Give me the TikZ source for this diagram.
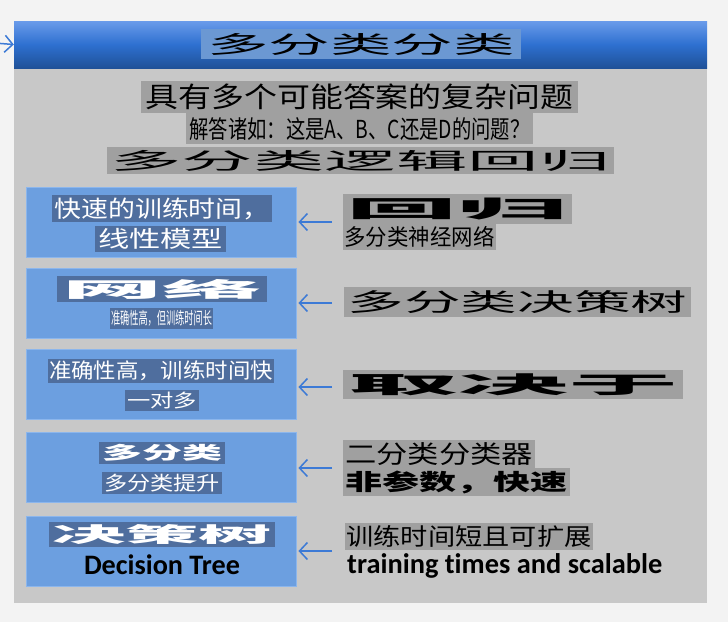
\documentclass[tikz,border=0pt]{standalone}
\usepackage{fontspec}
\usepackage{graphicx}
\setmainfont{Noto Sans CJK SC}
\newfontfamily\latinbold[Ligatures=CommonOff]{Carlito}
\usetikzlibrary{arrows.meta}
\usetikzlibrary{positioning}
\definecolor{bgcol}{HTML}{F3F3F3}
\definecolor{panelgray}{HTML}{C8C8C8}
\definecolor{hlgray}{HTML}{A0A0A0}
\definecolor{titlehl}{HTML}{6B98D3}
\definecolor{boxblue}{HTML}{6C9FE0}
\definecolor{boxline}{HTML}{8CB6EC}
\definecolor{hlblue}{HTML}{4F6E9E}
\definecolor{arrowblue}{HTML}{3C7AD6}
\definecolor{bandtop}{HTML}{6A9BEA}
\definecolor{bandmid}{HTML}{2E70D0}
\definecolor{bandbot}{HTML}{1F5198}
\newcommand\squash[3]{\resizebox*{#1pt}{#2pt}{#3}}

\begin{document}
\begin{tikzpicture}[x=1pt,y=-1pt,
  box/.style={draw=boxline,fill=boxblue,line width=0.8pt,minimum width=270pt,minimum height=70pt,inner sep=0pt},
  hl/.style={fill=hlgray,inner sep=0pt,text=black},
  hlw/.style={fill=hlblue,inner sep=0pt,text=white},
  arr/.style={draw=arrowblue,line width=1.5pt,-{Straight Barb[length=8pt,width=17pt,line width=1.5pt]},shorten >=2pt}]
  \useasboundingbox (0,0) rectangle (728,622);
  \clip (0,0) rectangle (728,622);
  \fill[bgcol] (0,0) rectangle (728,622);
  \fill[panelgray] (14,68) rectangle (707,603);
  \node[minimum width=693pt,minimum height=47pt,inner sep=0pt,top color=bandtop,bottom color=bandbot,middle color=bandmid] (band) at (360.5,44.5){};
  \coordinate (lt) at (-6,43);
  \draw[arr,shorten >=0pt] (lt)--(band.west);
  \node[fill=titlehl,minimum width=320pt,minimum height=30pt,inner sep=0pt] (title) at (361,44){\squash{308}{22}{多分类分类}};

  \node[hl,minimum width=437pt,minimum height=32pt] (q1) at (359.5,97){\squash{428}{26}{具有多个可能答案的复杂问题}};
  \node[hl,minimum width=347pt,minimum height=31pt,below=0pt of q1] (q2){\squash{340}{23}{解答诸如：这是A、B、C还是D的问题？}};
  \node[hl,minimum width=507pt,minimum height=27pt] (multi) at (360.5,160.5){\squash{500}{21}{多分类逻辑回归}};

  \node[box] (b1) at (161,222){};
  \node[box] (b2) at (161,303){};
  \node[box] (b3) at (161,384){};
  \node[box] (b4) at (161,467){};
  \node[box] (b5) at (161,551){};

  \node[hlw,minimum width=220pt,minimum height=27pt] (fast) at (162,208.5){\squash{215}{22}{快速的训练时间，}};
  \node[hlw,minimum width=131pt,minimum height=26pt] (linear) at (160.5,239){\squash{125}{21}{线性模型}};
  \node[hlw,minimum width=210pt,minimum height=26pt] (net) at (162,289){\squash{200}{20}{\bfseries 网络}};
  \node[hlw,minimum width=103pt,minimum height=21pt] (acc1) at (161.5,318.5){\squash{101}{16}{准确性高，但训练时间长}};
  \node[hlw,minimum width=226pt,minimum height=24pt] (acc2) at (161,371){\squash{224}{20}{准确性高，训练时间快}};
  \node[hlw,minimum width=74pt,minimum height=21pt] (ovr) at (162,400.5){\squash{70}{17}{一对多}};
  \node[hlw,minimum width=126pt,minimum height=22pt] (mc) at (162,453){\squash{120}{17}{\bfseries 多分类}};
  \node[hlw,minimum width=120pt,minimum height=22pt] (boost) at (162,483){\squash{116}{18}{多分类提升}};
  \node[hlw,minimum width=226pt,minimum height=25pt] (tree) at (162,534.5){\squash{220}{20}{\bfseries 决策树}};
  \node[inner sep=0pt] (dt) at (162,565){\resizebox{156pt}{!}{\latinbold\bfseries Decision Tree}};

  \node[hl,minimum width=229pt,minimum height=30pt] (reg) at (457.5,209){\squash{222}{22}{\bfseries 回归}};
  \node[hl,minimum width=153pt,minimum height=26pt] (nn) at (419.5,237){\squash{150}{21}{多分类神经网络}};
  \node[hl,minimum width=347pt,minimum height=30pt] (mtree) at (517.5,302){\squash{340}{23}{多分类决策树}};
  \node[hl,minimum width=340pt,minimum height=29pt] (dep) at (513,384.5){\squash{330}{22}{\bfseries 取决于}};
  \node[hl,minimum width=192pt,minimum height=28pt] (bin) at (439,454){\squash{188}{23}{二分类分类器}};
  \node[hl,minimum width=227pt,minimum height=28pt] (np) at (456.5,482){\squash{222}{23}{\bfseries 非参数，快速}};
  \node[hl,minimum width=248pt,minimum height=27pt] (short) at (469,536.5){\squash{245}{22}{训练时间短且可扩展}};
  \node[inner sep=0pt,anchor=west] (scal) at (347,566){\resizebox{315pt}{!}{\latinbold\bfseries training times and scalable}};

  \coordinate (a1) at (332,222);
  \coordinate (a2) at (332,303);
  \coordinate (a3) at (332,387);
  \coordinate (a4) at (332,468);
  \coordinate (a5) at (332,551);
  \draw[arr](a1)--(b1.east|-a1);
  \draw[arr](a2)--(b2.east|-a2);
  \draw[arr](a3)--(b3.east|-a3);
  \draw[arr](a4)--(b4.east|-a4);
  \draw[arr](a5)--(b5.east|-a5);
\end{tikzpicture}
\end{document}
